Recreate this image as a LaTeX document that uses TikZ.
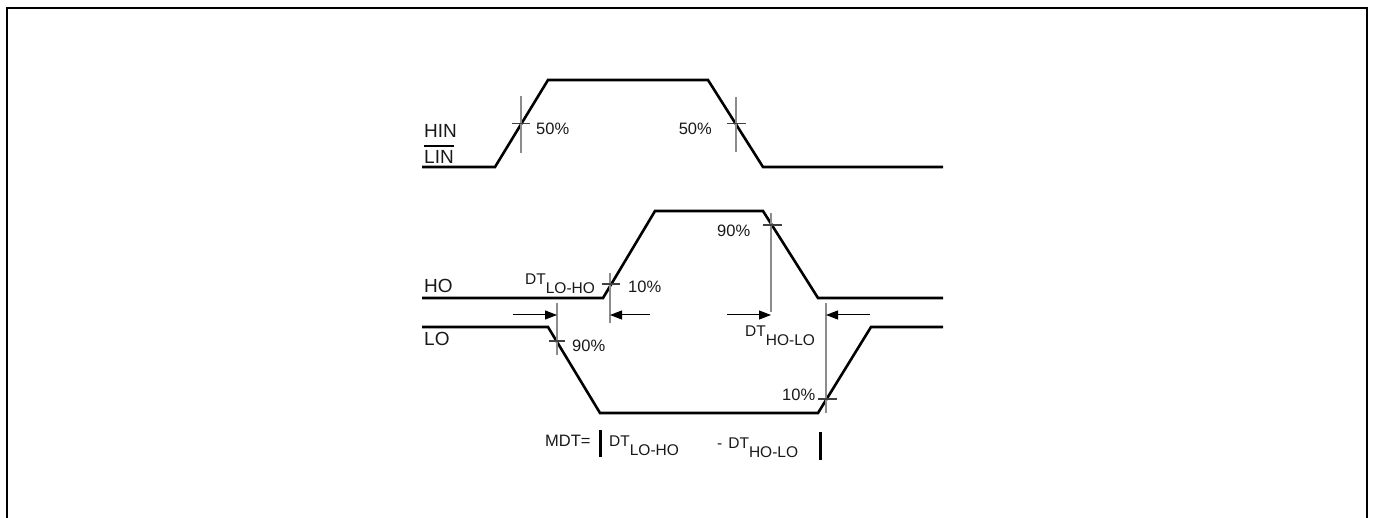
\documentclass[tikz,border=0pt]{standalone}
\usepackage{fontspec}
\setmainfont{Liberation Sans}
\usetikzlibrary{arrows.meta}
\begin{document}
\begin{tikzpicture}[x=1pt,y=-1pt,
  frame/.style={line width=2.5pt},
  wave/.style={line width=2.6pt, line join=miter},
  marker/.style={black!45, line width=1.1pt},
  tickmark/.style={black!75, line width=1.1pt},
  dtarrow/.style={line width=1pt, -{Triangle[length=12pt,width=9pt]}},
  lbl/.style={font=\fontsize{16.5}{19}\selectfont, inner sep=0pt, text=black!90},
  dtlbl/.style={font=\fontsize{15.5}{18}\selectfont, inner sep=0pt, text=black!90, anchor=base west},
  sig/.style={font=\fontsize{19}{22}\selectfont, inner sep=0pt, text=black!90, anchor=base west},
]
\useasboundingbox (0,0) rectangle (1373,518);
\draw[frame] (7,518) -- (7,8) -- (1367,8) -- (1367,518);

% signal names
\node[sig] (hin) at (424,138) {HIN};
\node[sig] (lin) at (424,164) {LIN};
\draw[line width=2pt] ([yshift=5pt]lin.north west) -- ([yshift=5pt]lin.north east);
\node[sig] (ho) at (424,293) {HO};
\node[sig] (lo) at (424,345) {LO};

% waveforms
\draw[wave] (422,167) -- (495,167) -- (548,80) -- (708,80) -- (763,167) -- (943,167);
\draw[wave] (422,298) -- (603,298) -- (655,211) -- (763,211) -- (818,298) -- (943,298);
\draw[wave] (422,327) -- (548,327) -- (600,413) -- (818,413) -- (871,327) -- (943,327);

% HIN 50% markers
\draw[marker] (521,96) -- (521,153);
\draw[tickmark] (512,123.5) -- (530,123.5);
\node[lbl, anchor=base west] (p50a) at (536,135) {50\%};
\draw[marker] (736,97) -- (736,152);
\draw[tickmark] (727,123.5) -- (746,123.5);
\node[lbl, anchor=base east] (p50b) at (712,135) {50\%};

% DT LO-HO markers
\coordinate (m1) at (557,315);
\coordinate (m2) at (610,315);
\draw[marker] (557,303) -- (557,355);
\draw[tickmark] (549,341) -- (565,341);
\node[lbl, anchor=base west] (p90lo) at (572,352) {90\%};
\draw[marker] (610,273) -- (610,323);
\draw[tickmark] (602,284) -- (620,284);
\node[lbl, anchor=base west] (p10ho) at (628,293) {10\%};
\node[dtlbl] (dt1) at (525,285) {DT\raisebox{-9pt}{LO-HO}};
\coordinate (a1) at (513,315);
\coordinate (a2) at (650,315);
\draw[dtarrow] (a1) -- (m1);
\draw[dtarrow] (a2) -- (m2);

% DT HO-LO markers
\coordinate (m3) at (771,315);
\coordinate (m4) at (826,315);
\draw[marker] (771,213) -- (771,312);
\draw[tickmark] (763,225) -- (782,225);
\node[lbl, anchor=base west] (p90ho) at (717,237) {90\%};
\draw[marker] (826,303) -- (826,413);
\draw[tickmark] (818,399) -- (837,399);
\node[lbl, anchor=base west] (p10lo) at (782,400) {10\%};
\node[dtlbl] (dt2) at (745,337) {DT\raisebox{-9pt}{HO-LO}};
\coordinate (a3) at (727,315);
\coordinate (a4) at (870,315);
\draw[dtarrow] (a3) -- (m3);
\draw[dtarrow] (a4) -- (m4);

% MDT formula
\node[lbl, anchor=base west] (mdt) at (545,446) {MDT=};
\draw[line width=3pt] (600,430) -- (600,457);
\node[dtlbl] (f1) at (609,446) {DT\raisebox{-9pt}{LO-HO}};
\node[dtlbl] (f2) at (717,448) {-\hspace{6pt}DT\raisebox{-9pt}{HO-LO}};
\draw[line width=3pt] (820,432) -- (820,460);
\end{tikzpicture}
\end{document}
